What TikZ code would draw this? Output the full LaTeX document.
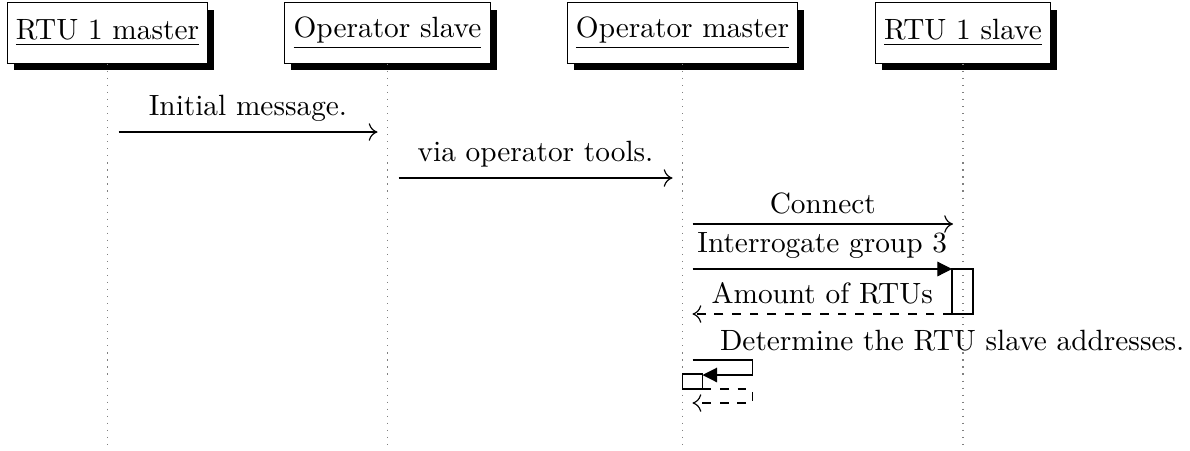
\documentclass[tikz,border=0pt]{standalone}
\usetikzlibrary{arrows.meta, positioning, shadows, calc}
\tikzset{
  inst/.style={draw, fill=white, inner xsep=3pt, minimum height=20.6pt,
               drop shadow={shadow xshift=2.2pt, shadow yshift=-2.3pt, fill=black, opacity=1}},
  life/.style={dotted, draw=gray},
  call/.style={-{To[length=3pt, width=6pt]}},
  sync/.style={-{Triangle[length=5pt, width=5pt]}},
  ret/.style={dashed, -{To[length=3pt, width=6pt]}},
  act/.style={draw},
}
\begin{document}
\begin{tikzpicture}[x=0.341pt, y=-0.341pt]
  \useasboundingbox (0,0) rectangle (1190,450);
  % instances
  \node[inst] (rm) at (107.5,33) {\underline{RTU 1 master}};
  \node[inst] (os) at (387.5,33) {\underline{Operator slave}};
  \node[inst] (om) at (682.5,33) {\underline{Operator master}};
  \node[inst] (rs) at (963,33) {\underline{RTU 1 slave}};
  \coordinate (bot) at (0,450);
  \foreach \n in {rm,os,om,rs}
    \draw[life] (\n.south) -- (\n.south |- bot);
  % message levels
  \coordinate (t1) at (0,132);
  \coordinate (t2) at (0,178);
  \coordinate (t3) at (0,224);
  \coordinate (t4) at (0,269);
  \coordinate (t5) at (0,314);
  \coordinate (s1) at (0,360);
  \coordinate (s2) at (0,375);
  \coordinate (s3) at (0,389);
  \coordinate (s4) at (0,403);
  \draw[call] ($(rm |- t1)+(11,0)$) -- node[above] {Initial message.} ($(os |- t1)+(-10,0)$);
  \draw[call] ($(os |- t2)+(11,0)$) -- node[above] {via operator tools.} ($(om |- t2)+(-10,0)$);
  \draw[call] ($(om |- t3)+(10,0)$) -- node[above] {Connect} ($(rs |- t3)+(-10,0)$);
  \draw[sync] ($(om |- t4)+(10,0)$) -- node[above] {Interrogate group 3} ($(rs |- t4)+(-11,0)$);
  \draw[act] ($(rs |- t4)+(-11,0)$) rectangle ($(rs |- t5)+(10,0)$);
  \draw[ret] ($(rs |- t5)+(-11,0)$) -- node[above] {Amount of RTUs} ($(om |- t5)+(10,0)$);
  % self call
  \node[anchor=base west, inner sep=0pt] (det) at ($(om |- s1)+(37,-10)$) {Determine the RTU slave addresses.};
  \draw[sync] ($(om |- s1)+(10,0)$) -- ++(60,0) |- ($(om |- s2)+(20,0)$);
  \draw[act] ($(om |- s2)+(0,-1)$) rectangle ($(om |- s3)+(20,0)$);
  \draw[ret] ($(om |- s3)+(20,0)$) -- ++(50,0) |- ($(om |- s4)+(10,0)$);
\end{tikzpicture}
\end{document}
